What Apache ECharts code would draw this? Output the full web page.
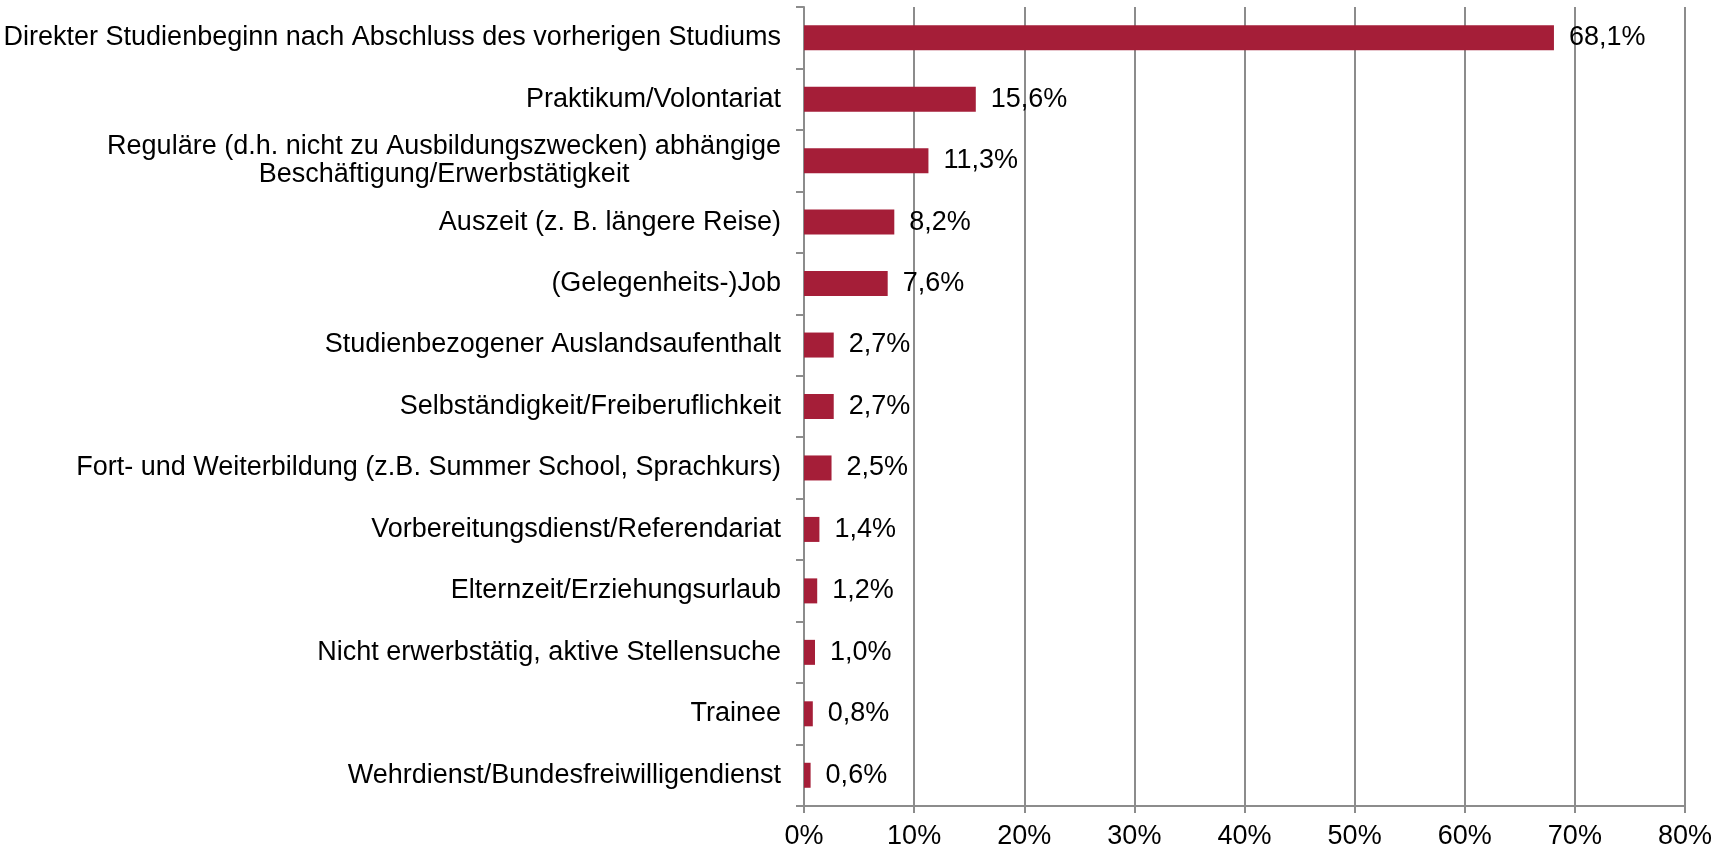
<!DOCTYPE html>
<html>
<head>
<meta charset="utf-8">
<script src="https://cdn.jsdelivr.net/npm/echarts@6/dist/echarts.min.js"></script>
<style>
html,body{margin:0;padding:0;background:#fff;}
#chart{width:1729px;height:850px;}
</style>
</head>
<body>
<div id="chart"></div>
<script>
const categories = [
  "Direkter Studienbeginn nach Abschluss des vorherigen Studiums",
  "Praktikum/Volontariat",
  "Reguläre (d.h. nicht zu Ausbildungszwecken) abhängige\nBeschäftigung/Erwerbstätigkeit",
  "Auszeit (z. B. längere Reise)",
  "(Gelegenheits-)Job",
  "Studienbezogener Auslandsaufenthalt",
  "Selbständigkeit/Freiberuflichkeit",
  "Fort- und Weiterbildung (z.B. Summer School, Sprachkurs)",
  "Vorbereitungsdienst/Referendariat",
  "Elternzeit/Erziehungsurlaub",
  "Nicht erwerbstätig, aktive Stellensuche",
  "Trainee",
  "Wehrdienst/Bundesfreiwilligendienst"
];
const values = [68.1, 15.6, 11.3, 8.2, 7.6, 2.7, 2.7, 2.5, 1.4, 1.2, 1.0, 0.8, 0.6];
const xTicks = [0, 10, 20, 30, 40, 50, 60, 70, 80];

const FONT = "'Liberation Sans', Arial, sans-serif";
const FS = 27;
const GRAY = '#8c8c8c';

const chart = echarts.init(document.getElementById('chart'), null, {renderer: 'canvas'});
chart.setOption({
  animation: false,
  backgroundColor: '#fff',
  grid: {left: 804, right: 44, top: 7, bottom: 43, containLabel: false},
  xAxis: {
    type: 'value',
    min: xTicks[0],
    max: xTicks[xTicks.length - 1],
    interval: 10,
    axisLine: {show: true, lineStyle: {color: GRAY, width: 2}},
    axisTick: {show: true, length: 7, lineStyle: {color: GRAY, width: 2}},
    splitLine: {show: true, lineStyle: {color: GRAY, width: 2}},
    axisLabel: {
      margin: 17,
      color: '#000',
      fontFamily: FONT,
      fontSize: FS,
      formatter: v => v + '%'
    }
  },
  yAxis: {
    type: 'category',
    inverse: true,
    data: categories,
    axisLine: {show: true, lineStyle: {color: GRAY, width: 2}},
    axisTick: {show: true, length: 8, alignWithLabel: false, lineStyle: {color: GRAY, width: 2}},
    axisLabel: {
      margin: 23,
      color: '#000',
      fontFamily: FONT,
      fontSize: FS,
      lineHeight: 28,
      formatter: function (v) {
        const parts = v.split('\n');
        if (parts.length === 1) return v;
        return '{a|' + parts[0] + '}\n{c|' + parts[1] + '}';
      },
      rich: {
        a: {fontFamily: FONT, fontSize: FS, color: '#000', lineHeight: 28, align: 'right'},
        c: {fontFamily: FONT, fontSize: FS, color: '#000', lineHeight: 28, align: 'center'}
      }
    }
  },
  series: [{
    type: 'bar',
    data: values,
    barWidth: 25,
    itemStyle: {color: '#A51E38'},
    label: {
      show: true,
      position: 'right',
      distance: 15,
      color: '#000',
      fontFamily: FONT,
      fontSize: FS,
      formatter: p => p.value.toFixed(1).replace('.', ',') + '%'
    }
  }]
});
</script>
</body>
</html>
